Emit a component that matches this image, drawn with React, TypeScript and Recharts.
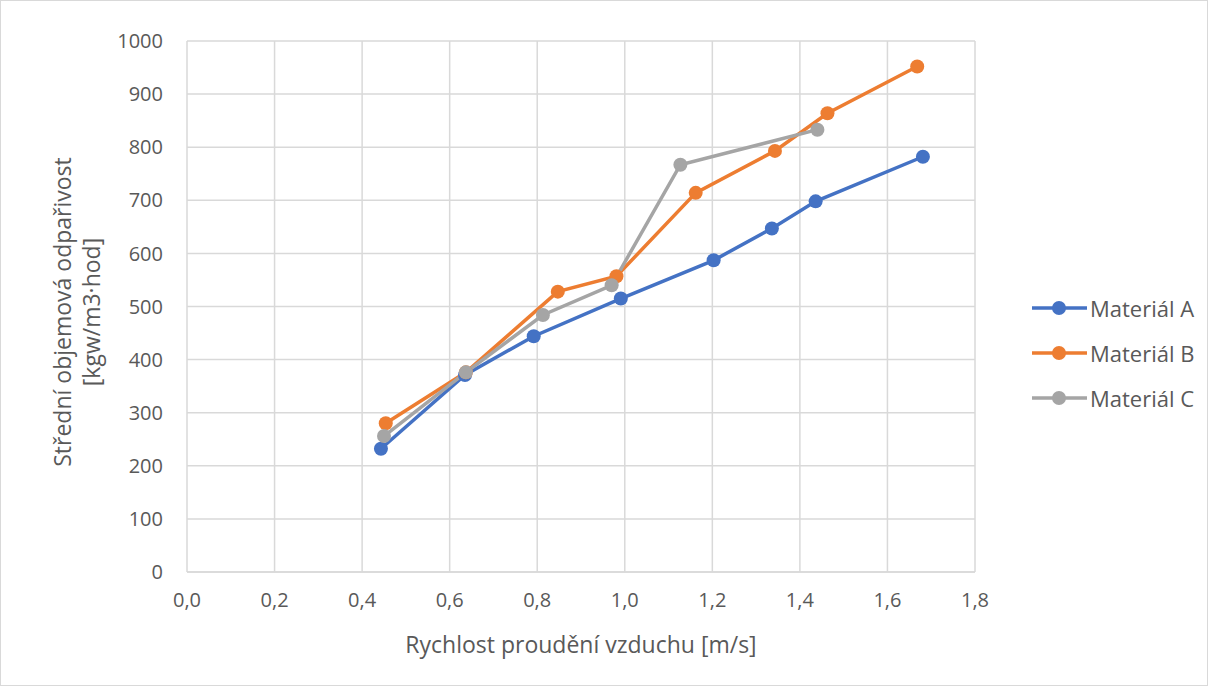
import { CartesianGrid, Line, LineChart, XAxis, YAxis } from "recharts";

// rychlost proudění [m/s] a střední objemová odpařivost pro jednotlivé materiály
const speedA = [0.443, 0.635, 0.792, 0.991, 1.203, 1.336, 1.436, 1.681];
const valueA = [232, 371, 444, 515, 587, 647, 698, 782];

const speedB = [0.454, 0.637, 0.847, 0.981, 1.162, 1.343, 1.463, 1.668];
const valueB = [280, 376, 528, 557, 714, 793, 864, 952];

const speedC = [0.45, 0.637, 0.813, 0.97, 1.127, 1.44];
const valueC = [256, 376, 484, 540, 767, 833];

const xTicks = [0, 0.2, 0.4, 0.6, 0.8, 1.0, 1.2, 1.4, 1.6, 1.8];
const yTicks = [0, 100, 200, 300, 400, 500, 600, 700, 800, 900, 1000];

const series = [
  { name: "Materiál A", color: "#4472C4", xs: speedA, ys: valueA },
  { name: "Materiál B", color: "#ED7D31", xs: speedB, ys: valueB },
  { name: "Materiál C", color: "#A5A5A5", xs: speedC, ys: valueC },
];

const FONT = "'Open Sans', sans-serif";
const FS = 20; // popisky os
const TITLE_FS = 23; // názvy os
const TEXT = "#595959";
const GRID = "#D9D9D9";

function LegendBox() {
  return (
    <div
      style={{
        position: "absolute",
        left: 1028,
        top: 284,
        fontFamily: FONT,
        fontSize: 22,
        color: TEXT,
      }}
    >
      {series.map((s) => (
        <div key={s.name} style={{ display: "flex", alignItems: "center", height: 45 }}>
          <svg width={60} height={20}>
            <line x1={3} y1={10} x2={58} y2={10} stroke={s.color} strokeWidth={3.5} />
            <circle cx={30} cy={10} r={7} fill={s.color} />
          </svg>
          <span style={{ marginLeft: 1 }}>{s.name}</span>
        </div>
      ))}
    </div>
  );
}

export default function App() {
  return (
    <div
      style={{
        position: "absolute",
        left: 0,
        top: 0,
        width: 1208,
        height: 686,
        boxSizing: "border-box",
        border: "1px solid #D9D9D9",
        background: "#fff",
      }}
    >
      <LineChart
        width={1206}
        height={684}
        margin={{ top: 40, right: 232, bottom: 30, left: 0 }}
        style={{ position: "absolute", left: 0, top: 0 }}
      >
        <CartesianGrid stroke={GRID} strokeWidth={1.5} />
        <XAxis
          type="number"
          dataKey="x"
          domain={[0, 1.8]}
          ticks={xTicks}
          allowDuplicatedCategory={false}
          tickFormatter={(v: number) => v.toFixed(1).replace(".", ",")}
          tick={{ fontSize: FS, fill: TEXT, fontFamily: FONT }}
          tickLine={false}
          tickSize={0}
          tickMargin={21}
          axisLine={{ stroke: GRID, strokeWidth: 1.5 }}
          height={83}
          label={{
            value: "Rychlost proudění vzduchu [m/s]",
            position: "insideBottom",
            offset: 2,
            style: { fontSize: TITLE_FS, fill: TEXT, fontFamily: FONT },
          }}
        />
        <YAxis
          type="number"
          domain={[0, 1000]}
          ticks={yTicks}
          tick={{ fontSize: FS, fill: TEXT, fontFamily: FONT }}
          tickLine={false}
          tickSize={0}
          tickMargin={24}
          axisLine={false}
          width={186}
        />
        <text
          transform="translate(70 311) rotate(-90)"
          textAnchor="middle"
          fontSize={TITLE_FS}
          fill={TEXT}
          fontFamily={FONT}
        >
          <tspan x={0} dy={0}>Střední objemová odpařivost</tspan>
          <tspan x={0} dy={29}>[kgw/m3·hod]</tspan>
        </text>
        {series.map((s) => (
          <Line
            key={s.name}
            name={s.name}
            data={s.xs.map((x, i) => ({ x, y: s.ys[i] }))}
            dataKey="y"
            stroke={s.color}
            strokeWidth={3.5}
            dot={{ r: 7, fill: s.color, stroke: s.color, strokeWidth: 0 }}
            activeDot={false}
            isAnimationActive={false}
          />
        ))}
      </LineChart>
      <LegendBox />
    </div>
  );
}
